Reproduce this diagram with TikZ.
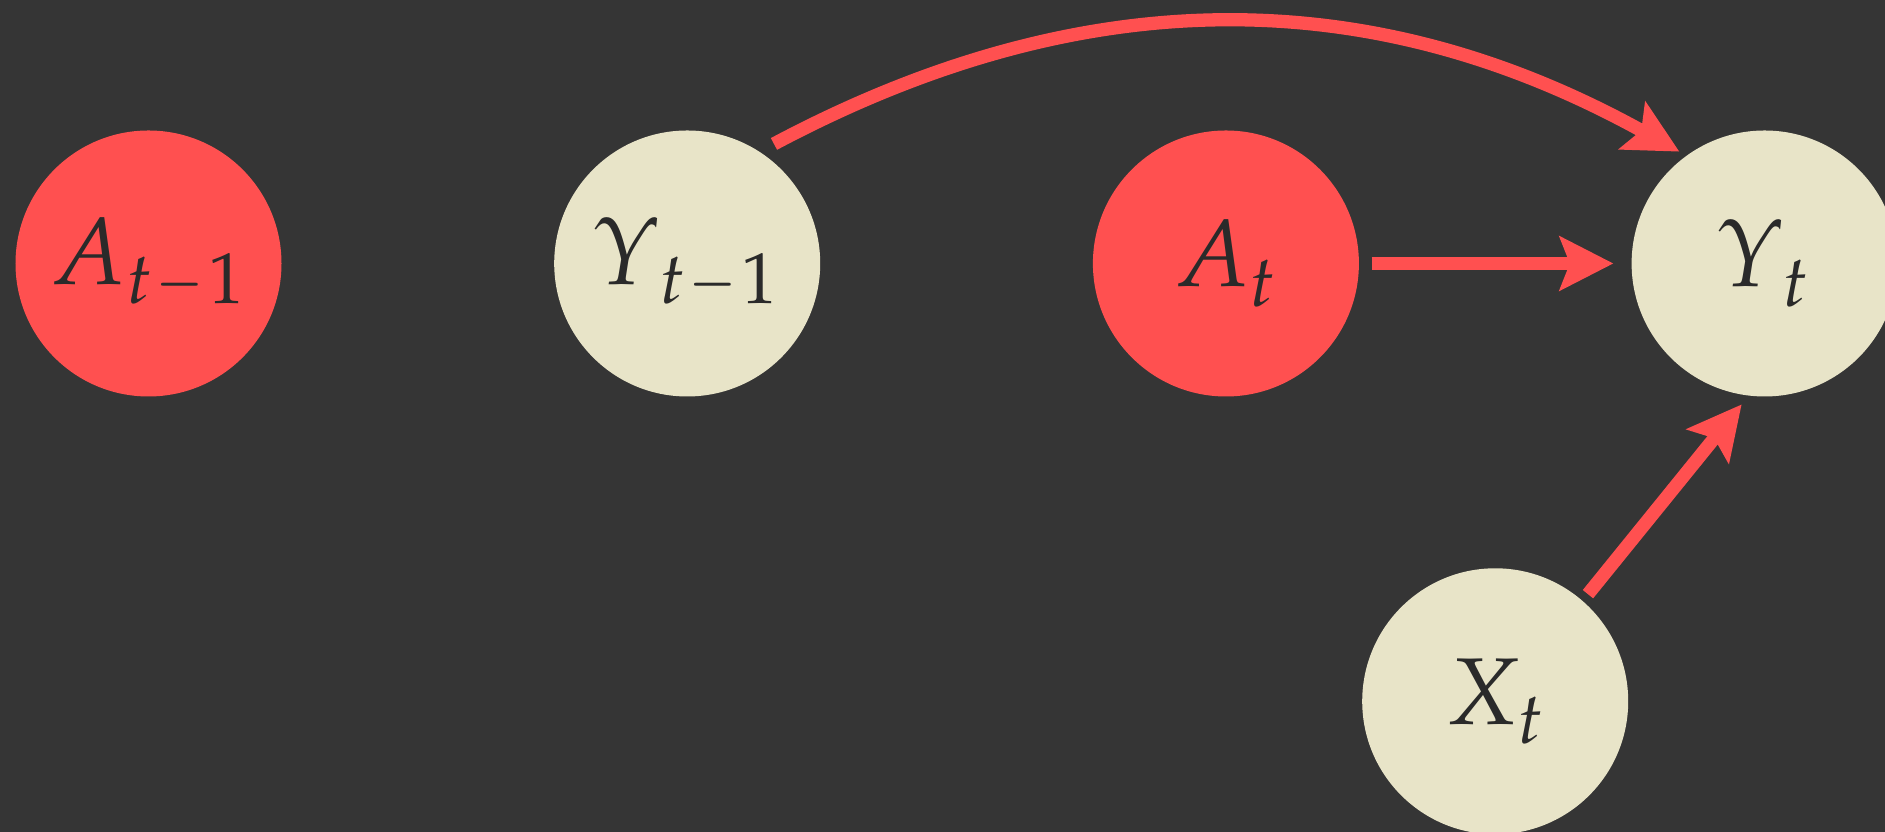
\documentclass[tikz,border=0pt]{standalone}
\usepackage{amsmath}
\usepackage{graphicx}
\usepackage{mathpazo}
\usetikzlibrary{arrows.meta}
\definecolor{bgc}{HTML}{353535}
\definecolor{redc}{HTML}{FF5050}
\definecolor{beigec}{HTML}{E8E4C8}
\definecolor{inkc}{HTML}{2A2A2A}
\newcommand{\lsub}[1]{_{\raisebox{-0.05cm}{$\scriptstyle #1$}}}
\newcommand{\tmo}{t\mkern1mu\scalebox{0.8}[1]{$\scriptstyle -$}\mkern1mu 1}
\begin{document}
\begin{tikzpicture}[
  varnode/.style={circle, minimum size=2.66cm, inner sep=0pt, text=inkc, font=\fontsize{27}{32}\selectfont},
  actnode/.style={varnode, fill=redc},
  obsnode/.style={varnode, fill=beigec},
  link/.style={draw=redc, line width=0.133cm, -{Stealth[length=0.535cm, width=0.535cm, inset=0.1cm]}}
]
\fill[bgc] (0,0) rectangle (18.85,8.32);
\useasboundingbox (0,0) rectangle (18.85,8.32);
\clip (0,0) rectangle (18.85,8.32);

\node[actnode] (A1) at (1.485,5.685) {$A\lsub{\tmo}$};
\node[obsnode] (Y1) at (6.872,5.685) {$\varUpsilon\lsub{\mkern2mu\tmo}$};
\node[actnode] (A)  at (12.259,5.685) {$A\lsub{t}$};
\node[obsnode] (Y)  at (17.646,5.685) {$\varUpsilon\lsub{\mkern2mu t}$};
\node[obsnode] (X)  at (14.952,1.307) {$X\lsub{t}$};

\draw[link, shorten <=0.12cm, shorten >=0.175cm] (A.east) -- (Y.west);
\draw[link, shorten <=0.08cm, shorten >=0.106cm] (X.49.5) -- (Y.263.8);
\draw[link, shorten <=0.158cm, shorten >=0.076cm] (Y1.57.5) to[out=28, in=151] (Y.126.7);
\end{tikzpicture}
\end{document}
